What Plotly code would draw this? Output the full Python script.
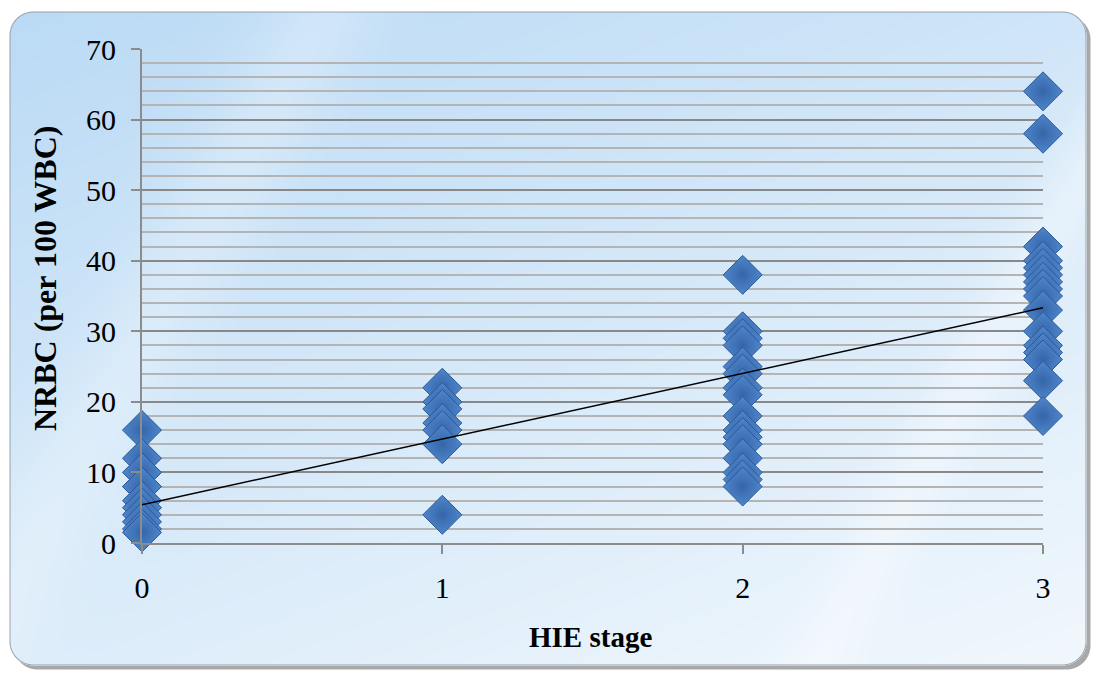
import base64, struct, zlib
import numpy as np
import plotly.graph_objects as go

# ---------------- data ----------------
stage0 = [16, 12, 10, 8, 8, 6, 5, 4, 3, 2, 1.5]
stage1 = [22, 20, 19, 17, 16, 14, 4]
stage2 = [38, 30, 29, 28, 25, 24, 22, 21, 18, 16, 15, 14, 12, 10, 9, 8]
stage3 = [64, 58, 42, 40, 39, 38, 37, 36, 35, 33, 30, 28, 27, 26, 23, 18]
x_ticks = [0, 1, 2, 3]
y_ticks = [0, 10, 20, 30, 40, 50, 60, 70]

xs = [0] * len(stage0) + [1] * len(stage1) + [2] * len(stage2) + [3] * len(stage3)
ys = stage0 + stage1 + stage2 + stage3

slope, intercept = np.polyfit(xs, ys, 1)
fit_x = [0, 3]
fit_y = [intercept + slope * v for v in fit_x]

# ---------------- layout geometry ----------------
W, H = 1097, 675
ML, MR, MT, MB = 142, 54, 49, 132
PW, PH = W - ML - MR, H - MT - MB


def px2x(px):
    return (px - ML) / PW


def px2y(py):
    return (H - MB - py) / PH


# ---------------- background image (gradient + rounded frame) ----------------
def make_bg():
    yy, xx = np.mgrid[0:H, 0:W].astype(np.float64)
    x0, y0, x1, y1, r = 9.0, 11.0, 1086.0, 665.0, 24.0

    def sdf(ox, oy):
        cx = np.clip(xx - ox, x0 + r, x1 - r)
        cy = np.clip(yy - oy, y0 + r, y1 - r)
        dx = (xx - ox) - cx
        dy = (yy - oy) - cy
        d = np.sqrt(dx * dx + dy * dy) - r
        inside = (xx - ox >= x0 + r) & (xx - ox <= x1 - r) | (yy - oy >= y0 + r) & (yy - oy <= y1 - r)
        inner = np.minimum.reduce([xx - ox - x0, x1 - (xx - ox), yy - oy - y0, y1 - (yy - oy)])
        d = np.where(inside & (inner > 0), -inner, d)
        return d

    d = sdf(0, 0)
    ds = sdf(4, 4)

    top = np.array([186, 218, 245], dtype=np.float64)
    bot = np.array([242, 248, 253], dtype=np.float64)
    t = np.clip(0.62 * (yy / H) + 0.38 * (xx / W), 0, 1)[..., None]
    col = top * (1 - t) + bot * t
    s = (xx + 0.55 * yy)
    streak = np.exp(-((s - 1180) / 40) ** 2) * 0.35 + np.exp(-((s - 330) / 60) ** 2) * 0.25
    col = col * (1 - streak[..., None]) + 255 * streak[..., None]

    img = np.zeros((H, W, 4), dtype=np.float64)
    a_sh = np.clip(0.5 - ds, 0, 1) * 0.6
    img[..., :3] = 110
    img[..., 3] = a_sh * 255
    a_in = np.clip(0.5 - d, 0, 1)
    img[..., :3] = img[..., :3] * (1 - a_in[..., None]) + col * a_in[..., None]
    img[..., 3] = np.maximum(img[..., 3], a_in * 255)
    bw = np.clip(1.0 - np.abs(d + 0.5), 0, 1)
    bc = np.array([150, 160, 170], dtype=np.float64)
    img[..., :3] = img[..., :3] * (1 - bw[..., None]) + bc * bw[..., None]
    img[..., 3] = np.maximum(img[..., 3], bw * 255)
    alpha = img[..., 3:4] / 255.0
    rgb = img[..., :3] * alpha + 255 * (1 - alpha)
    rgb = np.clip(rgb, 0, 255).astype(np.uint8)

    raw = b"".join(b"\x00" + rgb[i].tobytes() for i in range(H))

    def chunk(tag, data):
        c = struct.pack(">I", len(data)) + tag + data
        return c + struct.pack(">I", zlib.crc32(tag + data) & 0xFFFFFFFF)

    png = b"\x89PNG\r\n\x1a\n"
    png += chunk(b"IHDR", struct.pack(">IIBBBBB", W, H, 8, 2, 0, 0, 0))
    png += chunk(b"IDAT", zlib.compress(raw, 9))
    png += chunk(b"IEND", b"")
    return "data:image/png;base64," + base64.b64encode(png).decode()


bg = make_bg()

FONT = "Liberation Serif, Times New Roman, serif"

fig = go.Figure()
fig.add_trace(go.Scatter(
    x=xs, y=ys, mode="markers",
    marker=dict(symbol="diamond", size=30, color="#4f86cc",
                gradient=dict(type="radial", color="#3565a8"),
                line=dict(color="#2c5894", width=1)),
    cliponaxis=False, showlegend=False, hoverinfo="x+y"))
fig.add_trace(go.Scatter(
    x=fit_x, y=fit_y, mode="lines",
    line=dict(color="black", width=1.5),
    cliponaxis=False, showlegend=False, hoverinfo="skip"))

fig.update_layout(
    width=W, height=H,
    margin=dict(l=ML, r=MR, t=MT, b=MB, autoexpand=False),
    paper_bgcolor="white", plot_bgcolor="rgba(0,0,0,0)",
    font=dict(family=FONT, size=30, color="black"),
    images=[dict(source=bg, xref="paper", yref="paper",
                 x=px2x(0), y=px2y(0), sizex=W / PW, sizey=H / PH,
                 xanchor="left", yanchor="top", sizing="stretch", layer="below")],
    annotations=[
        dict(text="<b>HIE stage</b>", xref="paper", yref="paper",
             x=px2x(590), y=px2y(637), xanchor="center", yanchor="middle",
             showarrow=False, font=dict(family=FONT, size=29, color="black")),
        dict(text="<b>NRBC (per 100 WBC)</b>", xref="paper", yref="paper",
             x=px2x(45), y=px2y(279), xanchor="center", yanchor="middle",
             textangle=-90, showarrow=False,
             font=dict(family=FONT, size=32, color="black")),
    ],
)

fig.update_xaxes(
    range=[0, 3], tickvals=x_ticks, ticktext=[str(v) for v in x_ticks],
    showgrid=False, zeroline=False,
    showline=True, linecolor="#8c8c8c", linewidth=2,
    ticks="outside", ticklen=9, tickwidth=2, tickcolor="#8c8c8c",
    ticklabelstandoff=8,
    tickfont=dict(family=FONT, size=30, color="black"),
)
fig.update_yaxes(
    range=[0, 70], tickvals=y_ticks, ticktext=[str(v) for v in y_ticks],
    showgrid=True, gridcolor="#888888", gridwidth=2, zeroline=False,
    showline=True, linecolor="#8c8c8c", linewidth=2,
    ticks="outside", ticklen=9, tickwidth=2, tickcolor="#8c8c8c",
    ticklabelstandoff=9,
    tickfont=dict(family=FONT, size=30, color="black"),
    minor=dict(dtick=2, showgrid=True, gridcolor="#b4b4b4", gridwidth=1.5, ticks=""),
)

fig.write_html("out.html")
